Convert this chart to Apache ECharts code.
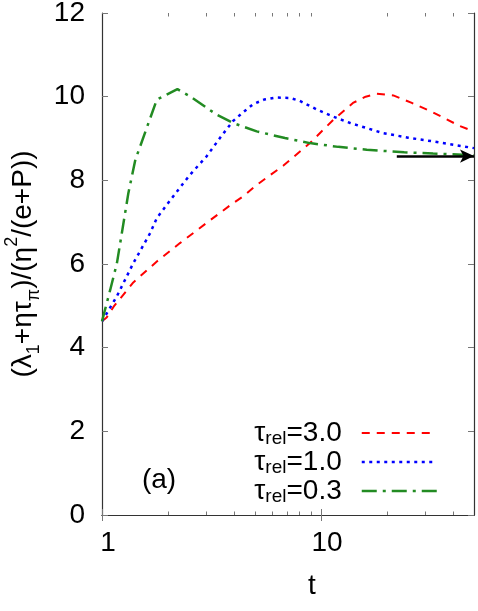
<!DOCTYPE html>
<html><head><meta charset="utf-8">
<script src="https://cdn.jsdelivr.net/npm/echarts@6/dist/echarts.min.js"></script>
<style>html,body{margin:0;padding:0;background:#fff}#c{width:478px;height:611px}</style>
</head><body><div id="c"></div>
<script>
// ---- data ----
const seriesNames = ['τrel=3.0', 'τrel=1.0', 'τrel=0.3'];
const tauLabels = ['3.0', '1.0', '0.3'];

const tRed = [1, 1.05, 1.13, 1.39, 1.78, 2.27, 3.0, 3.84, 4.42, 5.09, 6.72, 8.9, 11.4, 14.0, 16.0, 17.9, 21.4, 26, 32.6, 43, 50];
const yRed = [4.63, 4.72, 4.98, 5.56, 6.06, 6.50, 6.98, 7.40, 7.62, 7.89, 8.35, 8.89, 9.45, 9.85, 10.0, 10.07, 10.03, 9.85, 9.62, 9.30, 9.17];

const tBlue = [1, 1.167, 1.39, 1.66, 1.78, 2.0, 2.25, 2.52, 3.0, 3.5, 3.97, 4.42, 4.9, 5.5, 6.27, 7.2, 8.0, 9.6, 11.4, 13.6, 19.2, 25, 32.6, 50];
const yBlue = [4.63, 5.22, 6.02, 6.74, 7.10, 7.45, 7.80, 8.13, 8.57, 9.05, 9.42, 9.63, 9.82, 9.93, 9.98, 9.97, 9.90, 9.69, 9.52, 9.37, 9.13, 9.02, 8.93, 8.77];

const tGreen = [1, 1.09, 1.17, 1.32, 1.42, 1.6, 1.78, 2.21, 2.52, 3.34, 3.97, 5.09, 6.85, 8.9, 12, 16.2, 24, 32.5, 50];
const yGreen = [4.63, 5.38, 6.02, 7.70, 8.49, 9.25, 9.93, 10.18, 10.01, 9.57, 9.37, 9.17, 9.01, 8.89, 8.80, 8.73, 8.67, 8.64, 8.60];

const arrowFrom = [22.2, 8.58];
const arrowTo = [50, 8.58];

const xMin = 1, xMax = 50;
const xMajorTicks = [1, 10];
const xMinorTicks = [2, 3, 4, 5, 6, 7, 8, 9, 20, 30, 40];
const yMin = 0, yMax = 12, yStep = 2;
const panelLabel = '(a)';
const xName = 't';
const yNameRich = '{m|(λ}{s|1}{m|+ητ}{s|π}{m|)/(η}{p|2}{m|/(e+P))}';

// ---- chart ----
const FONT = 'Liberation Sans';
const pair = (t, y) => t.map((v, i) => [v, y[i]]);
const chart = echarts.init(document.getElementById('c'), null, {renderer: 'canvas'});

const gridBox = {left: 102, right: 4, top: 13, bottom: 96, containLabel: false, outerBoundsMode: 'none'};
const frameLine = {show: true, lineStyle: {color: '#333', width: 1.2}};
const majTick = {show: true, inside: true, length: 6, lineStyle: {color: '#777', width: 1}};
const minTick = {show: true, inside: true, length: 3.5, customValues: xMinorTicks, lineStyle: {color: '#777', width: 1}};

const option = {
  animation: false,
  backgroundColor: '#fff',
  grid: [Object.assign({}, gridBox), Object.assign({}, gridBox)],
  xAxis: [
    {gridIndex: 0, type: 'log', logBase: 10, position: 'bottom', min: xMin, max: xMax,
     axisLine: frameLine, axisTick: Object.assign({customValues: xMajorTicks}, majTick),
     axisLabel: {show: true, customValues: xMajorTicks, margin: 14, fontSize: 28, fontFamily: FONT, color: '#000', padding: [0, 0, 0, 12]},
     splitLine: {show: false}, minorTick: {show: false},
     name: xName, nameLocation: 'middle', nameGap: 57,
     nameTextStyle: {fontSize: 28, fontFamily: FONT, color: '#000', padding: [0, 0, 0, 48]}},
    {gridIndex: 0, type: 'log', logBase: 10, position: 'top', min: xMin, max: xMax,
     axisLine: frameLine, axisTick: Object.assign({customValues: xMajorTicks}, majTick),
     axisLabel: {show: false}, splitLine: {show: false}},
    {gridIndex: 1, type: 'log', logBase: 10, position: 'bottom', min: xMin, max: xMax,
     axisLine: {show: false}, axisTick: minTick, axisLabel: {show: false}, splitLine: {show: false}},
    {gridIndex: 1, type: 'log', logBase: 10, position: 'top', min: xMin, max: xMax,
     axisLine: {show: false}, axisTick: minTick, axisLabel: {show: false}, splitLine: {show: false}}
  ],
  yAxis: [
    {gridIndex: 0, type: 'value', position: 'left', min: yMin, max: yMax, interval: yStep,
     axisLine: frameLine, axisTick: majTick,
     axisLabel: {margin: 17, fontSize: 28, fontFamily: FONT, color: '#000'},
     splitLine: {show: false},
     name: yNameRich, nameLocation: 'middle', nameRotate: 90, nameGap: 56,
     nameTextStyle: {fontSize: 28, fontFamily: FONT, color: '#000',
       rich: {
         m: {fontSize: 28, fontFamily: FONT, color: '#000', lineHeight: 40},
         s: {fontSize: 18, fontFamily: FONT, color: '#000', lineHeight: 25, verticalAlign: 'bottom'},
         p: {fontSize: 18, fontFamily: FONT, color: '#000', lineHeight: 7, verticalAlign: 'top'}
       }}},
    {gridIndex: 0, type: 'value', position: 'right', min: yMin, max: yMax, interval: yStep,
     axisLine: frameLine, axisTick: majTick, axisLabel: {show: false}, splitLine: {show: false}},
    {gridIndex: 1, type: 'value', show: false, min: yMin, max: yMax}
  ],
  legend: {
    data: seriesNames, orient: 'vertical', right: 40, top: 419, align: 'right',
    padding: 0, itemGap: 0, itemWidth: 75, itemHeight: 14, selectedMode: false,
    lineStyle: {width: 'inherit'},
    itemStyle: {color: 'rgba(0,0,0,0)', borderColor: 'rgba(0,0,0,0)', borderWidth: 0, opacity: 0},
    textStyle: {fontSize: 28, fontFamily: FONT, color: '#000', padding: [0, 15, 0, 0],
      rich: {
        m: {fontSize: 28, fontFamily: FONT, color: '#000', lineHeight: 30},
        s: {fontSize: 19, fontFamily: FONT, color: '#000', lineHeight: 14, verticalAlign: 'bottom'}
      }},
    formatter: function (name) {
      const k = seriesNames.indexOf(name);
      return '{m|τ}{s|rel}{m|=' + tauLabels[k] + '}';
    }
  },
  graphic: [
    {type: 'text', x: 159, y: 480, silent: true,
     style: {text: panelLabel, fontSize: 28, fontFamily: FONT, fill: '#000', align: 'center', verticalAlign: 'middle'}}
  ],
  series: [
    {name: seriesNames[0], type: 'line', xAxisIndex: 0, yAxisIndex: 0, data: pair(tRed, yRed),
     symbol: 'none', showSymbol: false, color: '#ff0000',
     lineStyle: {color: '#ff0000', width: 2, type: [8, 7]}},
    {name: seriesNames[1], type: 'line', xAxisIndex: 0, yAxisIndex: 0, data: pair(tBlue, yBlue),
     symbol: 'none', showSymbol: false, color: '#0000ff',
     lineStyle: {color: '#0000ff', width: 2.5, type: [3, 4.5]}},
    {name: seriesNames[2], type: 'line', xAxisIndex: 0, yAxisIndex: 0, data: pair(tGreen, yGreen),
     symbol: 'none', showSymbol: false, color: '#228b22',
     lineStyle: {color: '#228b22', width: 2.5, type: [15, 6, 3, 6]},
     markLine: {silent: true, symbol: ['none', 'arrow'], symbolSize: [10, 14], animation: false,
       lineStyle: {color: '#000', width: 2.5, type: 'solid'}, label: {show: false},
       emphasis: {disabled: true},
       data: [[{coord: arrowFrom}, {coord: arrowTo}]]}}
  ]
};
chart.setOption(option);
</script>
</body></html>
